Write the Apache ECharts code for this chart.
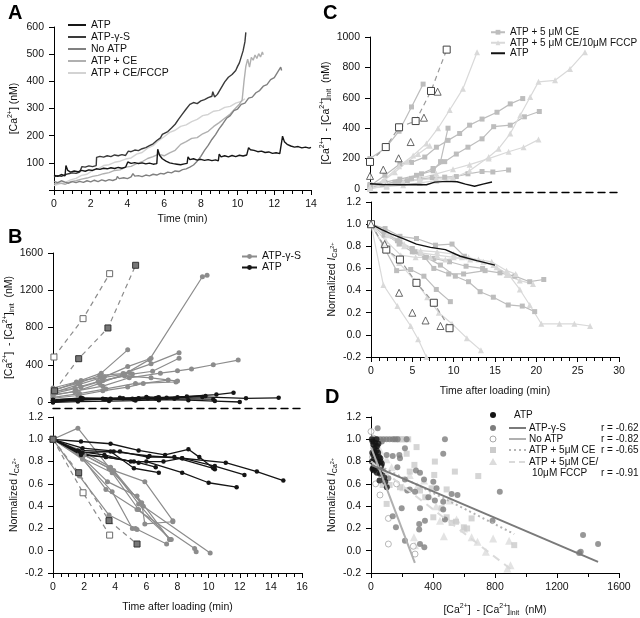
<!DOCTYPE html>
<html><head><meta charset="utf-8">
<script src="https://cdn.jsdelivr.net/npm/echarts@6/dist/echarts.min.js"></script>
<style>html,body{margin:0;padding:0;background:#fff}#c{width:640px;height:618px}</style>
</head><body><div id="c"></div><script>
// ---------------- Panel A: [Ca2+] traces (time min, nM) ----------------
const aATP = [[0,55],[0.2,50],[0.4,57],[0.6,52],[0.65,90],[0.75,72],[0.9,66],[1.1,70],[1.3,67],[1.5,72],[1.7,69],[1.9,74],[2.1,72],[2.3,78],[2.5,76],[2.7,80],[2.9,78],[3.1,82],[3.3,79],[3.5,83],[3.7,80],[3.9,84],[3.98,82],[4.02,103],[4.2,98],[4.4,101],[4.6,97],[4.8,100],[5.0,96],[5.2,99],[5.4,95],[5.6,97],[5.65,150],[5.75,128],[5.9,115],[6.1,106],[6.3,100],[6.5,97],[6.7,95],[6.9,93],[7.1,96],[7.25,98],[7.3,122],[7.4,112],[7.6,115],[7.8,110],[8.0,113],[8.2,109],[8.4,112],[8.6,108],[8.8,111],[8.95,107],[9.0,132],[9.1,122],[9.3,126],[9.5,122],[9.7,127],[9.9,123],[10.1,128],[10.3,125],[10.5,129],[10.6,156],[10.7,148],[10.9,146],[11.1,141],[11.3,143],[11.5,138],[11.7,140],[11.9,135],[12.1,137],[12.3,134],[12.4,140],[12.45,198],[12.55,178],[12.7,168],[12.9,162],[13.1,158],[13.3,160],[13.5,155],[13.7,158],[13.9,154],[14.0,157]];
const aGammaS = [[0,48],[0.2,53],[0.4,50],[0.6,56],[0.8,60],[1.0,63],[1.2,61],[1.4,66],[1.5,64],[1.52,86],[1.7,84],[1.9,89],[2.1,86],[2.3,90],[2.32,120],[2.5,124],[2.7,121],[2.9,126],[3.1,123],[3.3,129],[3.5,126],[3.7,130],[3.9,127],[4.05,143],[4.2,141],[4.4,147],[4.6,145],[4.8,152],[5.0,156],[5.2,163],[5.4,170],[5.6,182],[5.8,192],[5.9,205],[6.0,198],[6.2,215],[6.4,228],[6.6,242],[6.8,262],[7.0,280],[7.2,298],[7.4,315],[7.6,322],[7.8,318],[8.0,328],[8.2,333],[8.4,340],[8.6,345],[8.65,362],[8.75,342],[8.9,352],[9.1,375],[9.3,398],[9.5,415],[9.6,408],[9.7,425],[9.9,440],[10.0,455],[10.1,468],[10.2,490],[10.3,512],[10.4,545],[10.45,580]];
const aNoATP = [[0,32],[0.2,27],[0.4,34],[0.6,29],[0.8,25],[1.0,31],[1.2,27],[1.4,32],[1.6,28],[1.8,34],[2.0,30],[2.2,36],[2.4,31],[2.6,37],[2.8,33],[3.0,38],[3.2,35],[3.4,40],[3.45,50],[3.55,42],[3.8,45],[4.0,42],[4.2,48],[4.3,60],[4.4,51],[4.6,53],[4.8,49],[5.0,55],[5.2,52],[5.4,58],[5.6,55],[5.8,61],[6.0,59],[6.2,66],[6.4,63],[6.6,70],[6.8,68],[7.0,75],[7.2,78],[7.4,84],[7.6,92],[7.8,106],[8.0,124],[8.2,146],[8.4,164],[8.6,186],[8.8,204],[9.0,226],[9.2,244],[9.4,264],[9.6,274],[9.8,292],[10.0,298],[10.2,315],[10.4,320],[10.6,338],[10.8,342],[11.0,358],[11.2,366],[11.4,382],[11.6,388],[11.8,406],[12.0,414],[12.2,436],[12.35,452],[12.4,440]];
const aCE = [[0,22],[0.3,26],[0.6,21],[0.9,31],[1.2,34],[1.5,40],[1.8,44],[2.1,50],[2.4,54],[2.7,60],[3.0,64],[3.3,72],[3.6,74],[3.9,84],[4.2,87],[4.5,97],[4.8,104],[5.1,116],[5.4,123],[5.7,132],[6.0,126],[6.3,137],[6.6,146],[6.9,168],[7.2,178],[7.5,190],[7.8,193],[8.1,207],[8.4,216],[8.7,234],[9.0,248],[9.3,264],[9.6,280],[9.9,302],[10.1,316],[10.25,332],[10.35,400],[10.45,455],[10.55,482],[10.65,452],[10.75,488],[10.85,478],[10.95,497],[11.05,484],[11.15,502],[11.25,490],[11.35,508],[11.4,498]];
const aCEFCCP = [[0,16],[0.3,23],[0.6,27],[0.9,37],[1.2,43],[1.5,54],[1.8,58],[2.1,72],[2.4,78],[2.7,90],[3.0,93],[3.3,102],[3.6,106],[3.9,114],[4.2,118],[4.5,132],[4.8,138],[5.1,154],[5.4,163],[5.7,182],[6.0,196],[6.3,212],[6.6,220],[6.9,234],[7.2,240],[7.5,252],[7.8,260],[8.1,274],[8.4,278],[8.7,290],[9.0,293],[9.3,304],[9.6,308],[9.9,320],[10.2,326],[10.4,336]];

// ---------------- Panel B top: delta [Ca2+] (nM) vs time ----------------
const bTopGammaS = [
 [[0,150],[1.5,215],[3.1,310],[4.8,560]],
 [[0,100],[1.7,190],[3.1,260],[4.6,300],[6.2,455],[9.6,1345],[9.9,1360]],
 [[0,130],[1.6,200],[3.0,285],[4.5,305],[6.3,410],[8.1,530]],
 [[0,90],[1.8,160],[3.2,230],[5.1,300],[6.4,330],[8.1,470]],
 [[0,70],[1.5,120],[3.2,170],[4.9,260],[6.9,310],[8.0,335],[8.9,355],[10.3,400],[11.9,450]],
 [[0,110],[1.4,150],[2.9,220],[4.6,280],[6.3,260],[8.0,225]],
 [[0,50],[1.7,90],[3.4,140],[5.3,200],[7.9,215]],
 [[0,40],[1.6,70],[3.2,120],[4.8,160],[5.8,200],[7.4,235]],
 [[0,80],[1.4,110],[3.0,200],[4.9,320]],
 [[0,120],[1.8,230],[3.3,270],[4.8,380],[6.3,470]]
];
const bTopATP = [
 [[0,5],[1.7,25],[3.3,30],[5.1,35],[6.7,45],[8.6,60],[10.5,80],[11.6,100]],
 [[0,15],[1.9,35],[3.7,35],[5.5,40],[7.3,45],[9.6,55],[12.4,40],[14.5,45]],
 [[0,-5],[1.6,5],[3.6,10],[5.3,15],[6.8,25],[8.7,20],[10.4,10],[12.0,0]],
 [[0,20],[1.8,45],[3.2,35],[4.5,40],[6.0,55],[6.8,50],[8.0,50],[9.8,65]],
 [[0,0],[1.6,20],[3.7,30],[5.2,25],[6.8,20]],
 [[0,10],[1.8,30],[3.4,30],[5.5,35],[6.6,40]],
 [[0,25],[1.9,40],[4.3,45],[6.1,40],[7.8,35],[10.3,30]]
];
const bTopOpenSq = [[0.06,483],[1.93,895],[3.64,1378]];
const bTopFilledSq = [[0.1,120],[1.65,465],[3.53,795],[5.31,1468]];

// ---------------- Panel B bottom: normalized I_Ca vs time ----------------
const bBotGammaS = [
 [[0,1],[1.6,1.10],[3.7,0.73],[5.9,0.62],[7.7,0.27]],
 [[0,1],[1.7,0.67],[3.6,0.32],[5.3,0.20],[7.3,0.06]],
 [[0,1],[1.8,0.85],[3.5,0.62],[5.4,0.49],[7.5,0.10]],
 [[0,1],[1.9,0.83],[3.8,0.70],[5.5,0.37],[7.6,0.10]],
 [[0,1],[1.7,0.88],[3.6,0.74],[5.7,0.43],[5.9,0.24],[7.7,0.26]],
 [[0,1],[1.8,0.85],[3.4,0.55],[5.4,0.37],[9.1,0.02],[9.2,-0.01]],
 [[0,1],[1.9,0.82],[3.8,0.53],[5.1,0.20],[5.4,0.19]],
 [[0,1],[2.0,0.86],[3.9,0.72],[5.8,0.40],[10.1,-0.02]],
 [[0,1],[1.8,0.90],[3.7,0.75],[5.5,0.42],[7.5,0.10]]
];
const bBotATP = [
 [[0,1],[1.8,0.98],[3.7,0.96],[5.5,0.90],[7.2,0.86],[8.7,0.91],[9.4,0.84],[10.4,0.73]],
 [[0,1],[1.9,0.88],[3.9,0.89],[6.2,0.85],[8.3,0.83],[11.1,0.79],[13.1,0.71],[14.8,0.63]],
 [[0,1],[1.7,0.89],[3.3,0.86],[5.0,0.80],[7.1,0.80],[8.3,0.83],[10.4,0.76],[12.3,0.68]],
 [[0,1],[1.8,0.87],[3.4,0.84],[5.2,0.80],[6.0,0.80],[8.3,0.70],[10.0,0.61],[11.8,0.57]],
 [[0,1],[1.6,0.90],[3.7,0.89],[5.2,0.74],[6.8,0.70]],
 [[0,1],[1.8,0.86],[3.4,0.84],[5.5,0.79],[6.6,0.75]],
 [[0,1],[1.9,0.92],[4.3,0.89],[6.1,0.84],[7.8,0.84],[10.3,0.74]]
];
const bBotOpenSq = [[0,1.0],[1.93,0.52],[3.64,0.14]];
const bBotFilledSq = [[0,1.0],[1.65,0.70],[3.6,0.27],[5.4,0.06]];

// ---------------- Panel C top: delta [Ca2+] (nM) vs time ----------------
const cTopCE = [
 [[0,200],[1.9,270],[3.5,380],[5.0,540],[6.4,690]],
 [[0,20],[1.5,30],[3,45],[4.5,55],[6,65],[7.5,75],[9,78],[10.4,82],[11.8,100],[13.5,115],[14.8,112],[16.7,125]],
 [[0,20],[1.8,90],[3.6,165],[5.0,175],[6.6,210],[8.0,275],[9.4,320],[10.8,365],[12.0,420],[13.5,460],[15.3,505],[16.9,560],[18.4,595]],
 [[0,10],[1.8,30],[3.5,50],[5.0,70],[6.2,100],[7.6,135],[9.0,180],[10.4,230],[11.8,275],[13.5,330],[14.9,410],[16.9,420],[18.6,475],[20.4,510]],
 [[0,30],[1.8,45],[3.6,65],[5.6,90],[7.6,120],[8.5,180],[9.4,400]]
];
const cTopFCCP = [
 [[0,10],[1.7,60],[3.5,150],[5.2,220],[6.8,300],[8.2,400],[9.6,520],[11.2,660],[12.9,900]],
 [[0,5],[2,15],[4,25],[6,40],[8,55],[10,70],[12,120],[14.3,210],[15.5,265],[16.9,365],[18.1,485],[19.3,605],[20.3,705],[22.3,715],[24.1,790],[25.9,900]],
 [[0,5],[2,20],[4,40],[6,70],[8,100],[10,130],[12,160],[14.3,200],[16.7,245],[18.5,275],[20.3,325]],
 [[0,10],[1.5,50],[3,110],[4.5,180],[5.8,230],[7.2,285]],
 [[0,0],[2,25],[4,45],[6,60],[8,70],[10,75]]
];
const cTopOpenSq = [[0,178],[1.9,276],[3.5,406],[5.5,447],[7.35,645],[9.24,917]];
const cTopOpenTri = [[0,86],[1.6,127],[3.45,202],[4.9,309],[6.5,469],[8.15,640]];
const cTopATP = [[0,35],[1.5,30],[3.5,28],[5.5,30],[6.8,28],[7.8,45],[9.2,50],[10.5,48],[11.5,32],[12.6,18],[13.6,32],[14.7,46]];

// ---------------- Panel C bottom: normalized I_Ca vs time ----------------
const cBotCE = [
 [[0,1],[1.6,0.93],[3.2,0.85],[5.0,0.78],[6.5,0.70],[7.6,0.60],[9.4,0.55],[11.2,0.55],[13.8,0.58],[15.6,0.56],[17.4,0.53],[19.2,0.48],[20.9,0.50]],
 [[0,1],[1.7,0.92],[3.4,0.82],[5.0,0.75],[6.7,0.70],[8.4,0.63],[10.2,0.53],[11.8,0.48],[13.2,0.39],[14.8,0.34],[16.6,0.27],[18.3,0.26],[19.8,0.21]],
 [[0,1],[1.5,0.80],[3.1,0.58],[4.8,0.59],[6.4,0.53],[7.9,0.41],[9.6,0.30]],
 [[0,1],[1.7,0.96],[3.5,0.89],[5.5,0.87],[7.8,0.81],[9.8,0.82],[11.3,0.71]],
 [[0,1],[1.6,0.90],[3.5,0.84],[5.3,0.75],[7.6,0.69],[9.5,0.66],[11.5,0.62],[13.5,0.60]]
];
const cBotFCCP = [
 [[0,1],[1.5,0.45],[3.2,0.26],[4.8,0.08],[5.7,-0.04],[6.7,-0.2]],
 [[0,1],[1.6,0.80],[3.4,0.65],[5.3,0.49],[6.8,0.34],[8.2,0.20],[9.8,0.10],[11.6,-0.03],[13.3,-0.14]],
 [[0,1],[2,0.90],[4,0.80],[6,0.76],[8,0.75],[10,0.73],[11.8,0.70],[13.6,0.66],[15.2,0.61],[16.7,0.54],[18.0,0.41],[19.2,0.27],[20.6,0.10],[22.8,0.10],[24.6,0.10],[26.5,0.08]],
 [[0,1],[2,0.92],[4,0.82],[6,0.74],[8,0.72],[10,0.70],[12,0.68],[14.8,0.63],[16.4,0.54],[18.0,0.49],[19.6,0.46]],
 [[0,1],[1.8,0.85],[3.6,0.72],[5.4,0.70],[7.2,0.70],[9,0.68],[11,0.70],[13,0.68],[14.6,0.66],[16.4,0.58],[17.5,0.55]]
];
const cBotOpenSq = [[0,1.0],[1.85,0.77],[3.5,0.68],[5.5,0.47],[7.6,0.29],[9.5,0.06]];
const cBotOpenTri = [[0,1.0],[1.65,0.82],[3.4,0.38],[5.0,0.20],[6.6,0.13],[8.4,0.08]];
const cBotATP = [[0,1.0],[1.3,0.95],[2.5,0.91],[3.9,0.87],[5.5,0.82],[7.2,0.79],[9.0,0.77],[10.8,0.71],[12.8,0.67],[15.0,0.63]];

// ---------------- Panel D: normalized I_Ca vs delta [Ca2+] ----------------
const dATP = [[5,1.0],[10,0.98],[15,0.95],[22,0.92],[28,0.97],[32,0.85],[36,0.90],[42,0.80],[46,0.88],[52,0.84],[60,0.83],[70,0.78],[80,0.71],[92,0.62],[102,0.57],[10,0.73],[20,0.72],[38,0.70],[58,0.69],[30,0.76],[15,0.86],[25,0.88],[55,0.63],[45,0.74],[6,0.80],[8,0.88],[35,1.0],[48,0.96],[20,0.82],[66,0.76],[12,0.74],[40,0.94],[62,0.80],[85,0.66]];
const dGammaS = [[43,1.10],[477,1.0],[466,0.87],[831,0.53],[1368,0.14],[1465,0.06],[1353,-0.01],[1343,-0.02],[784,0.27],[558,0.50],[466,0.37],[477,0.28],[348,0.27],[311,0.24],[311,0.19],[316,0.06],[344,0.03],[219,0.09],[161,0.21],[140,0.31],[198,0.38],[316,0.38],[412,0.45],[402,0.62],[316,0.70],[219,0.64],[234,0.54],[284,0.53],[342,0.64],[183,0.86],[187,0.83],[219,0.92],[290,0.72],[466,0.44],[520,0.51],[140,0.85],[170,0.75],[423,0.56],[172,1.0],[230,1.0],[112,0.65],[101,0.86],[20,1.0],[40,1.0],[60,1.0],[80,1.0],[100,1.0],[120,1.0],[140,1.0],[155,1.0],[250,0.55],[370,0.48],[30,0.93],[70,0.98]];
const dNoATP = [[0,1.07],[15,1.01],[58,0.50],[112,0.29],[112,0.06],[165,0.60],[273,0.04],[284,-0.03],[37,0.90],[20,0.95],[10,0.84],[30,0.60],[50,0.78],[70,0.70]];
const dCE = [[160,1.0],[180,1.0],[200,1.0],[220,1.0],[240,1.0],[294,0.93],[280,0.77],[412,0.80],[408,0.68],[541,0.71],[692,0.67],[402,0.30],[488,0.30],[548,0.26],[599,0.21],[649,0.29],[924,0.05],[391,0.56],[488,0.55],[316,0.54],[187,0.57],[101,0.42],[75,0.59],[250,0.71],[230,0.87],[120,0.59],[350,0.48],[455,0.38],[520,0.25],[620,0.20]];
const dFCCP = [[208,0.57],[277,0.12],[284,0.05],[445,0.27],[470,0.13],[552,0.28],[649,0.12],[687,0.08],[788,0.11],[741,-0.01],[891,0.09],[900,-0.13],[342,0.63],[380,0.49],[509,0.45],[133,0.75],[60,0.90],[100,0.82],[250,0.68],[300,0.58],[420,0.40],[600,0.20],[880,-0.16],[30,0.95]];
const dFitGammaS = [[0,0.77],[1465,-0.10]];
const dFitNoATP = [[0,0.93],[283,-0.11]];
const dFitCE = [[0,0.80],[924,0.15]];
const dFitFCCP = [[0,0.80],[906,-0.17]];
const dLegendNames = ['ATP','ATP-γ-S','No ATP','ATP + 5μM CE','ATP + 5μM CE/','10μM FCCP'];
const dLegendR = ['','r = -0.62','r = -0.82','r = -0.65','','r = -0.91'];

// ---------------- styling helpers ----------------
const FF = '"Liberation Sans", Arial, Helvetica, sans-serif';
const TXT = '#111';
const rich = {
  sup:{fontSize:7, lineHeight:8, verticalAlign:'top', fontFamily:FF, color:TXT},
  sub:{fontSize:7, lineHeight:8, verticalAlign:'bottom', fontFamily:FF, color:TXT},
  ss:{fontSize:5.5, lineHeight:8, verticalAlign:'middle', fontFamily:FF, color:TXT},
  it:{fontSize:10.5, lineHeight:14, fontStyle:'italic', fontFamily:FF, color:TXT}
};
const NM_CA = '[Ca{sup|2+}] (nM)';
const NM_DELTA = '[Ca{sup|2+}]  - [Ca{sup|2+}]{sub|init}  (nM)';
const NM_NORM = 'Normalized {it|I}{sub|Ca}{ss|2+}';

function axis(o){
  const base = {
    type:'value', splitLine:{show:false},
    axisLine:{onZero:false, lineStyle:{color:'#000', width:1}},
    axisTick:{length:5, lineStyle:{color:'#000', width:1}},
    axisLabel:{fontSize:10.5, color:TXT, fontFamily:FF, margin:9, formatter:v=>String(v)},
    nameLocation:'middle',
    nameTextStyle:{fontSize:10.5, color:TXT, fontFamily:FF, lineHeight:14, rich:rich}
  };
  for (const k in o) {
    if (base[k] && typeof base[k]==='object' && !Array.isArray(base[k]) && typeof o[k]==='object') base[k] = Object.assign({}, base[k], o[k]);
    else base[k] = o[k];
  }
  return base;
}
const f1 = v => v.toFixed(1);
const minor = n => ({show:true, splitNumber:n, length:4, lineStyle:{color:'#000'}});
const dashedAxis = (gi, max, off) => axis({gridIndex:gi, min:0, max:max, offset:off,
  axisLine:{onZero:false, lineStyle:{color:'#000', width:1.4, type:[7,5]}},
  axisTick:{show:false}, axisLabel:{show:false}});

const grids = [
  {left:54, top:27, width:257, height:163},
  {left:53, top:253, width:249, height:149},
  {left:53, top:417, width:249, height:156},
  {left:370, top:37, width:249, height:152},
  {left:371, top:202, width:248, height:155},
  {left:371, top:417, width:248, height:156}
];
const xAxes = [
  axis({gridIndex:0, min:0, max:14, interval:2, minorTick:minor(4), name:'Time (min)', nameGap:22}),
  dashedAxis(1, 16, 6),
  axis({gridIndex:2, min:0, max:16, interval:2, minorTick:minor(4), name:'Time after loading (min)', nameGap:27}),
  dashedAxis(3, 30, 3),
  axis({gridIndex:4, min:0, max:30, interval:5, minorTick:minor(5), name:'Time after loading (min)', nameGap:27}),
  axis({gridIndex:5, min:0, max:1600, interval:400, minorTick:minor(2), name:NM_DELTA, nameGap:30})
];
const yLab = {margin:10};
const yAxes = [
  axis({gridIndex:0, min:0, max:600, interval:100, axisLabel:Object.assign({}, yLab, {formatter:v=>v===0?'':String(v)}), name:NM_CA, nameGap:33}),
  axis({gridIndex:1, min:0, max:1600, interval:400, axisLabel:yLab, name:NM_DELTA, nameGap:31}),
  axis({gridIndex:2, min:-0.2, max:1.2, interval:0.2, axisLabel:Object.assign({}, yLab, {formatter:f1}), name:NM_NORM, nameGap:31}),
  axis({gridIndex:3, min:0, max:1000, interval:200, axisLabel:yLab, name:NM_DELTA, nameGap:30}),
  axis({gridIndex:4, min:-0.2, max:1.2, interval:0.2, axisLabel:Object.assign({}, yLab, {formatter:f1}), name:NM_NORM, nameGap:30}),
  axis({gridIndex:5, min:-0.2, max:1.2, interval:0.2, axisLabel:Object.assign({}, yLab, {formatter:f1}), name:NM_NORM, nameGap:30})
];

const series = [];
function ln(name, data, gi, color, width, extra){
  series.push(Object.assign({type:'line', name:name, data:data, xAxisIndex:gi, yAxisIndex:gi,
    clip:false, symbol:'none', lineStyle:{color:color, width:width}, itemStyle:{color:color}, z:2}, extra||{}));
}
function sc(name, data, gi, symbol, size, fill, border, z){
  series.push({type:'scatter', name:name, data:data, xAxisIndex:gi, yAxisIndex:gi, symbol:symbol, symbolSize:size,
    itemStyle:{color:fill, borderColor:border||fill, borderWidth:border?1:0}, z:z||3});
}

// Panel A
ln('ATP + CE/FCCP', aCEFCCP, 0, '#d3d3d3', 1.4);
ln('ATP + CE', aCE, 0, '#b0b0b0', 1.4);
ln('No ATP', aNoATP, 0, '#808080', 1.4);
ln('ATP-γ-S', aGammaS, 0, '#3a3a3a', 1.4);
ln('ATP', aATP, 0, '#161616', 1.4);

// Panel B top & bottom
const gGray = '#8c8c8c', gBlack = '#151515';
const symG = {symbol:'circle', symbolSize:5, showSymbol:true};
const symK = {symbol:'circle', symbolSize:4.5, showSymbol:true};
const openSqStyle = {symbol:'rect', symbolSize:6, showSymbol:true, lineStyle:{color:'#8c8c8c', width:1.2, type:[5,4]}, itemStyle:{color:'#fff', borderColor:'#6a6a6a', borderWidth:1}};
const filledSqStyle = {symbol:'rect', symbolSize:6, showSymbol:true, lineStyle:{color:'#8c8c8c', width:1.2, type:[5,4]}, itemStyle:{color:'#777', borderColor:'#333', borderWidth:1}};
bTopGammaS.forEach(d => ln('B:ATP-γ-S', d, 1, gGray, 1.2, symG));
bTopATP.forEach(d => ln('B:ATP', d, 1, gBlack, 1.3, symK));
ln('B:open', bTopOpenSq, 1, '#8c8c8c', 1.2, openSqStyle);
ln('B:filled', bTopFilledSq, 1, '#8c8c8c', 1.2, filledSqStyle);
bBotGammaS.forEach(d => ln('B:ATP-γ-S', d, 2, gGray, 1.2, symG));
bBotATP.forEach(d => ln('B:ATP', d, 2, gBlack, 1.3, symK));
ln('B:open', bBotOpenSq, 2, '#8c8c8c', 1.2, openSqStyle);
ln('B:filled', bBotFilledSq, 2, '#8c8c8c', 1.2, filledSqStyle);

// Panel C top & bottom
const cSq = '#bdbdbd', cTri = '#d9d9d9';
const symSq = {symbol:'rect', symbolSize:5, showSymbol:true};
const symTri = {symbol:'triangle', symbolSize:6, showSymbol:true};
const cOpenSqStyle = {symbol:'rect', symbolSize:7, showSymbol:true, lineStyle:{color:'#9a9a9a', width:1.2, type:[5,4]}, itemStyle:{color:'#fff', borderColor:'#444', borderWidth:1}, z:5};
cTopCE.forEach(d => ln('C:ATP + 5 μM CE', d, 3, cSq, 1.2, symSq));
cTopFCCP.forEach(d => ln('C:ATP + 5 μM CE/10μM FCCP', d, 3, cTri, 1.2, symTri));
ln('C:ATP', cTopATP, 3, '#111', 1.4, {z:4});
ln('C:openSq', cTopOpenSq, 3, '#9a9a9a', 1.2, cOpenSqStyle);
sc('C:openTri', cTopOpenTri, 3, 'triangle', 7, '#fff', '#444', 5);
cBotCE.forEach(d => ln('C:ATP + 5 μM CE', d, 4, cSq, 1.2, symSq));
cBotFCCP.forEach(d => ln('C:ATP + 5 μM CE/10μM FCCP', d, 4, cTri, 1.2, symTri));
ln('C:ATP', cBotATP, 4, '#111', 1.4, {z:4});
ln('C:openSq', cBotOpenSq, 4, '#9a9a9a', 1.2, cOpenSqStyle);
sc('C:openTri', cBotOpenTri, 4, 'triangle', 7, '#fff', '#444', 5);

// Panel D
sc('D:FCCP', dFCCP, 5, 'triangle', 8, '#dcdcdc', null, 3);
sc('D:CE', dCE, 5, 'rect', 6, '#cbcbcb', null, 3);
sc('D:NoATP', dNoATP, 5, 'circle', 6, '#fff', '#a8a8a8', 3);
sc('D:GammaS', dGammaS, 5, 'circle', 6, '#7d7d7d', null, 3);
sc('D:ATP', dATP, 5, 'circle', 6, '#141414', null, 4);
ln('D:fitFCCP', dFitFCCP, 5, '#dadada', 2, {lineStyle:{color:'#dadada', width:2, type:[8,6]}, z:5});
ln('D:fitCE', dFitCE, 5, '#b5b5b5', 2, {lineStyle:{color:'#b5b5b5', width:2, type:[2,3]}, z:5});
ln('D:fitNoATP', dFitNoATP, 5, '#b0b0b0', 2, {z:5});
ln('D:fitGammaS', dFitGammaS, 5, '#7a7a7a', 2, {z:5});

// Legends
const legTxt = (lh, fs) => ({fontSize:fs, color:TXT, fontFamily:FF, lineHeight:lh});
const legends = [
  {data:['ATP','ATP-γ-S','No ATP','ATP + CE','ATP + CE/FCCP'], orient:'vertical', left:67, top:19, padding:0,
   itemGap:0, itemWidth:18, itemHeight:12, textStyle:legTxt(12,10.5), selectedMode:false, itemStyle:{opacity:0}},
  {data:['B:ATP-γ-S','B:ATP'], orient:'vertical', left:241, top:251, padding:0, itemGap:0, itemWidth:15, itemHeight:6,
   textStyle:legTxt(10,10.5), formatter:n=>n.slice(2), selectedMode:false},
  {data:['C:ATP + 5 μM CE','C:ATP + 5 μM CE/10μM FCCP', {name:'C:ATP', itemStyle:{opacity:0}}], orient:'vertical', left:490, top:27, padding:0, itemGap:0,
   itemWidth:14, itemHeight:6, textStyle:legTxt(10.5,10), formatter:n=>n.slice(2), selectedMode:false}
];

// Graphic: panel letters and panel D legend
const graphic = [];
[['A',8,3],['B',8,227],['C',323,3],['D',325,387]].forEach(([t,x,y]) => graphic.push({type:'text', x:x, y:y,
  style:{text:t, fontSize:20, fontWeight:'bold', fontFamily:FF, fill:'#000'}}));
const dRowsY = [415,428,439,450,462,473];
const dSym = [
  {type:'circle', shape:{cx:493, cy:dRowsY[0], r:3}, style:{fill:'#141414'}},
  {type:'circle', shape:{cx:493, cy:dRowsY[1], r:3}, style:{fill:'#7d7d7d'}},
  {type:'circle', shape:{cx:493, cy:dRowsY[2], r:3}, style:{fill:'#fff', stroke:'#a8a8a8', lineWidth:1}},
  {type:'rect', shape:{x:490, y:dRowsY[3]-3, width:6, height:6}, style:{fill:'#cbcbcb'}},
  {type:'polygon', shape:{points:[[493,dRowsY[4]-4],[489,dRowsY[4]+3],[497,dRowsY[4]+3]]}, style:{fill:'#dcdcdc'}}
];
dSym.forEach(s => graphic.push(s));
const dLines = [null,
  {stroke:'#7a7a7a', lineWidth:2},
  {stroke:'#b0b0b0', lineWidth:2},
  {stroke:'#b5b5b5', lineWidth:2, lineDash:[2,3]},
  {stroke:'#dadada', lineWidth:2, lineDash:[6,4]}, null];
dLines.forEach((st,i) => { if (st) graphic.push({type:'line', shape:{x1:509, y1:dRowsY[i], x2:526, y2:dRowsY[i]}, style:st}); });
dLegendNames.forEach((t,i) => graphic.push({type:'text', x: i===0 ? 514 : (i===5 ? 532 : 529), y:dRowsY[i],
  style:{text:t, fontSize:10, fontFamily:FF, fill:TXT, verticalAlign:'middle'}}));
dLegendR.forEach((t,i) => { if (t) graphic.push({type:'text', x:601, y:dRowsY[i],
  style:{text:t, fontSize:10, fontFamily:FF, fill:TXT, verticalAlign:'middle'}}); });

const chart = echarts.init(document.getElementById('c'), null, {renderer:'canvas'});
chart.setOption({
  animation:false, backgroundColor:'#fff',
  textStyle:{fontFamily:FF},
  grid:grids, xAxis:xAxes, yAxis:yAxes, legend:legends, series:series, graphic:graphic
});
</script></body></html>
